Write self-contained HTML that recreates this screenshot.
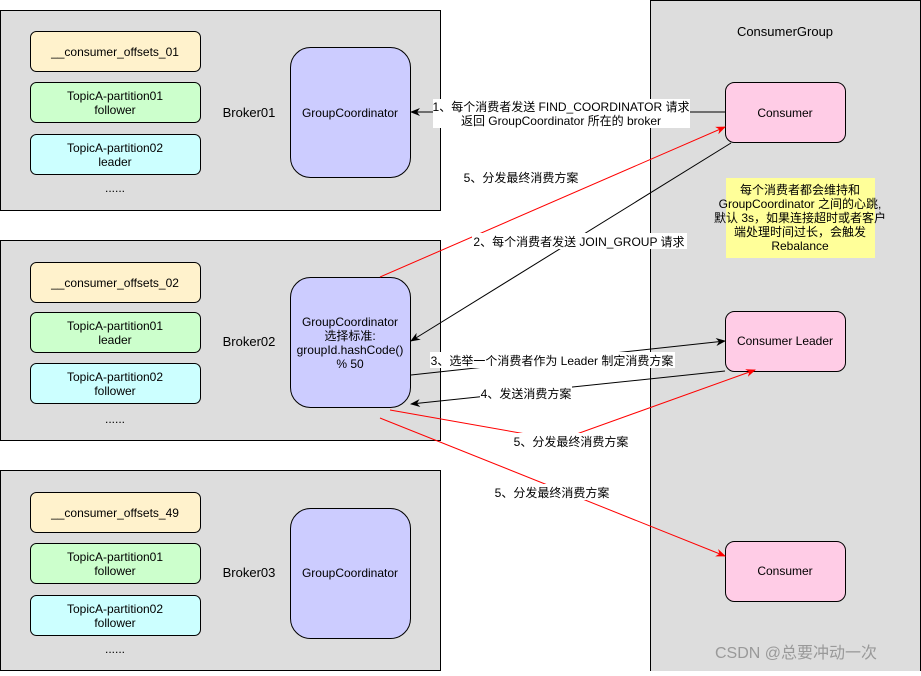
<!DOCTYPE html>
<html><head><meta charset="utf-8"><style>
body{margin:0;background:#fff;}
svg text{font-family:"Liberation Sans","Noto Sans CJK SC",sans-serif;font-size:12px;fill:#000;}
</style></head><body>
<svg width="921" height="671" viewBox="0 0 921 671" xmlns="http://www.w3.org/2000/svg">
<defs>
<marker id="ab" markerWidth="10" markerHeight="10" refX="9" refY="5" orient="auto" markerUnits="userSpaceOnUse"><path d="M0,1 L10,5 L0,9 L3,5 z" fill="#000"/></marker>
<marker id="ar" markerWidth="10" markerHeight="10" refX="9" refY="5" orient="auto" markerUnits="userSpaceOnUse"><path d="M0,1 L10,5 L0,9 L3,5 z" fill="#f00"/></marker>
</defs>
<rect x="650.5" y="0.5" width="270" height="680" fill="#ddd" stroke="#000"/>
<text x="785" y="36" text-anchor="middle" font-size="13" style="font-size:13px">ConsumerGroup</text>

<g stroke="#000">
<rect x="0.5" y="10.5" width="440" height="200" fill="#ddd"/>
<rect x="0.5" y="240.5" width="440" height="200" fill="#ddd"/>
<rect x="0.5" y="470.5" width="440" height="200" fill="#ddd"/>
</g>
<g font-size="13">
<text x="249" y="117" text-anchor="middle" style="font-size:13px">Broker01</text>
<text x="249" y="346" text-anchor="middle" style="font-size:13px">Broker02</text>
<text x="249" y="577" text-anchor="middle" style="font-size:13px">Broker03</text>
</g>

<g stroke="#000">
<rect x="30.5" y="31.5" width="170" height="40" rx="6" fill="#fff2cc"/>
<rect x="30.5" y="82.5" width="170" height="40" rx="6" fill="#ccffcc"/>
<rect x="30.5" y="134.5" width="170" height="40" rx="6" fill="#ccffff"/>
<rect x="30.5" y="262.5" width="170" height="40" rx="6" fill="#fff2cc"/>
<rect x="30.5" y="312.5" width="170" height="40" rx="6" fill="#ccffcc"/>
<rect x="30.5" y="363.5" width="170" height="40" rx="6" fill="#ccffff"/>
<rect x="30.5" y="492.5" width="170" height="40" rx="6" fill="#fff2cc"/>
<rect x="30.5" y="543.5" width="170" height="40" rx="6" fill="#ccffcc"/>
<rect x="30.5" y="595.5" width="170" height="40" rx="6" fill="#ccffff"/>
<rect x="290.5" y="47.5" width="120" height="130" rx="20" fill="#ccccff"/>
<rect x="290.5" y="277.5" width="120" height="130" rx="20" fill="#ccccff"/>
<rect x="290.5" y="508.5" width="120" height="130" rx="20" fill="#ccccff"/>
<rect x="725.5" y="82.5" width="120" height="60" rx="9" fill="#ffcce6"/>
<rect x="725.5" y="311.5" width="120" height="60" rx="9" fill="#ffcce6"/>
<rect x="725.5" y="541.5" width="120" height="60" rx="9" fill="#ffcce6"/>
</g>
<rect x="726" y="178" width="149" height="80" fill="#ffff99"/>

<g text-anchor="middle">
<text x="115" y="56">__consumer_offsets_01</text>
<text x="115" y="100">TopicA-partition01</text><text x="115" y="114">follower</text>
<text x="115" y="152">TopicA-partition02</text><text x="115" y="166">leader</text>
<text x="115" y="192">......</text>
<text x="115" y="287">__consumer_offsets_02</text>
<text x="115" y="330">TopicA-partition01</text><text x="115" y="344">leader</text>
<text x="115" y="381">TopicA-partition02</text><text x="115" y="395">follower</text>
<text x="115" y="423">......</text>
<text x="115" y="517">__consumer_offsets_49</text>
<text x="115" y="561">TopicA-partition01</text><text x="115" y="575">follower</text>
<text x="115" y="613">TopicA-partition02</text><text x="115" y="627">follower</text>
<text x="115" y="653">......</text>
<text x="350" y="117">GroupCoordinator</text>
<text x="350" y="326">GroupCoordinator</text>
<text x="350" y="340">选择标准:</text>
<text x="350" y="354">groupId.hashCode()</text>
<text x="350" y="368">% 50</text>
<text x="350" y="577">GroupCoordinator</text>
<text x="785" y="117">Consumer</text>
<text x="785" y="345">Consumer Leader</text>
<text x="785" y="575">Consumer</text>
<text x="800" y="194">每个消费者都会维持和</text>
<text x="800" y="208">GroupCoordinator 之间的心跳,</text>
<text x="800" y="222">默认 3s，如果连接超时或者客户</text>
<text x="800" y="236">端处理时间过长，会触发</text>
<text x="800" y="250">Rebalance</text>
</g>

<g fill="none" stroke-width="1">
<line x1="725" y1="112" x2="411" y2="112" stroke="#000" marker-end="url(#ab)"/>
<line x1="380" y1="277" x2="725" y2="127" stroke="#f00" marker-end="url(#ar)"/>
<line x1="731" y1="143" x2="411" y2="341" stroke="#000" marker-end="url(#ab)"/>
<line x1="411" y1="375" x2="725" y2="341" stroke="#000" marker-end="url(#ab)"/>
<line x1="725" y1="371" x2="411" y2="404" stroke="#000" marker-end="url(#ab)"/>
<polyline points="390,410 560,440 755,370" stroke="#f00" marker-end="url(#ar)"/>
<line x1="380" y1="418" x2="725" y2="556" stroke="#f00" marker-end="url(#ar)"/>
</g>

<g>
<rect x="433" y="99" width="257" height="29" fill="#fff"/>
<text x="561" y="111" text-anchor="middle">1、每个消费者发送 FIND_COORDINATOR 请求</text>
<text x="561" y="125" text-anchor="middle">返回 GroupCoordinator 所在的 broker</text>
<rect x="463" y="169" width="116" height="16" fill="#fff"/>
<text x="521" y="182" text-anchor="middle">5、分发最终消费方案</text>
<rect x="472" y="233" width="215" height="16" fill="#fff"/>
<text x="579" y="246" text-anchor="middle">2、每个消费者发送 JOIN_GROUP 请求</text>
<rect x="430" y="352" width="245" height="16" fill="#fff"/>
<text x="552" y="365" text-anchor="middle">3、选举一个消费者作为 Leader 制定消费方案</text>
<rect x="480" y="385" width="92" height="16" fill="#fff"/>
<text x="526" y="398" text-anchor="middle">4、发送消费方案</text>
<rect x="513" y="433" width="116" height="16" fill="#fff"/>
<text x="571" y="446" text-anchor="middle">5、分发最终消费方案</text>
<rect x="494" y="484" width="116" height="16" fill="#fff"/>
<text x="552" y="497" text-anchor="middle">5、分发最终消费方案</text>
</g>
<text x="715" y="658" style="font-size:16px;fill:#999">CSDN @总要冲动一次</text>
</svg>
</body></html>
